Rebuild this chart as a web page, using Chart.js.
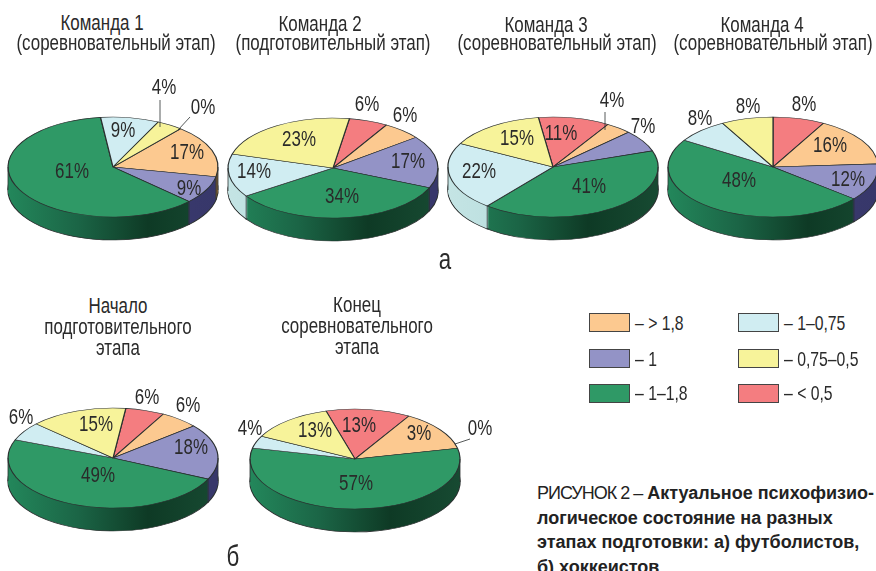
<!DOCTYPE html>
<html lang="ru">
<head>
<meta charset="utf-8">
<script src="https://cdn.jsdelivr.net/npm/chart.js@4/dist/chart.umd.min.js"></script>
<style>
    html, body { margin: 0; padding: 0; background: #fff; }
    body { position: relative; width: 876px; height: 571px; overflow: hidden; color: #2a2a2a; font-family: "Liberation Sans", sans-serif; }
    canvas { position: absolute; }
    /* no condensed face is installed, so the text is narrowed by hand */
    .line { position: absolute; transform: translate(-50%, -50%) scaleX(0.77); white-space: nowrap; font-size: 22px; }
    .swatch { position: absolute; width: 39px; height: 17px; border: 1px solid #444; }
    .legendText { position: absolute; white-space: nowrap; font-size: 21px; transform-origin: left center; transform: translateY(-50%) scaleX(0.75); }
    #caption { position: absolute; left: 537px; top: 481px; width: 339px; font: bold 18px/24.6px "Liberation Sans", sans-serif; white-space: nowrap; color: #222; }
    #caption span { font-weight: normal; letter-spacing: -1px; }
</style>
</head>
<body>
<div id="caption"><span>РИСУНОК 2 –</span> Актуальное психофизио-<br>логическое состояние на разных<br>этапах подготовки: а) футболистов,<br>б) хоккеистов</div>
<script>
// slice order is the same in every pie, clockwise
const categories = ['< 0,5', '> 1,8', '1', '1–1,8', '1–0,75', '0,75–0,5'];

const team1Values = [0, 17, 9, 61, 9, 4];
const team2Values = [6, 6, 17, 34, 14, 23];
const team3Values = [11, 4, 7, 41, 22, 15];
const team4Values = [8, 16, 12, 48, 8, 8];
const startValues = [6, 6, 18, 49, 6, 15];
// the picture prints 3% on the orange slice but the slice is 13% wide
const endValues = [13, 13, 0, 57, 4, 13];
const endLabels = ['13%', '3%', '0%', '57%', '4%', '13%'];

const team1Title = ['Команда 1', '(соревновательный этап)'];
const team2Title = ['Команда 2', '(подготовительный этап)'];
const team3Title = ['Команда 3', '(соревновательный этап)'];
const team4Title = ['Команда 4', '(соревновательный этап)'];
const startTitle = ['Начало', 'подготовительного', 'этапа'];
const endTitle = ['Конец', 'соревновательного', 'этапа'];

const legendOrder = [1, 2, 3, 4, 5, 0];

const topColors = ['#f47d80', '#fcc990', '#9393c6', '#2f9966', '#d0edf2', '#f7f39a'];
const sideColors = [
    ['#c0585a', '#a04446'],
    ['#a98a5c', '#7a5c34'],
    ['#3f3f75', '#37376a'],
    ['#23875b', '#1b6546', '#0e3a25', '#174a32'],
    ['#c4e4e4', '#a6d2d2'],
    ['#c9c577', '#a5a25c']
];

const RADIUS = 105;
const SQUASH = 0.476;
const DEPTH = 23;
const BOX_W = 300;
const BOX_H = 240;
const labelFont = '22px "Liberation Sans", sans-serif';
const LABEL_NARROW = 0.77;

// labelAt and leaders are offsets from the centre of the pie
const pies = [
    { values: team1Values, cx: 113, cy: 167, rotation: 40,
      labelAt: [[90, -59], [74, -14], [76, 22], [-41, 5], [10, -36], [51, -79]],
      leaders: [[47, -67, 47, -40], [77, -50, 65, -37]],
      title: team1Title, titleAt: [[102, 23], [116, 43]] },
    { values: team2Values, cx: 333, cy: 168, rotation: 9,
      labelAt: [[34, -63], [72, -52], [75, -6], [9, 29], [-79, 4], [-34, -28]],
      leaders: [],
      title: team2Title, titleAt: [[320, 24], [333, 43]] },
    { values: team3Values, cx: 553, cy: 167, rotation: -8,
      labelAt: [[8, -33], [59, -66], [90, -40], [36, 20], [-74, 5], [-36, -28]],
      leaders: [[52, -55, 52, -37]],
      title: team3Title, titleAt: [[546, 25], [557, 43]] },
    { values: team4Values, cx: 773, cy: 167, rotation: 0,
      labelAt: [[31, -62], [57, -21], [75, 13], [-34, 14], [-73, -48], [-25, -60]],
      leaders: [],
      title: team4Title, titleAt: [[762, 25], [773, 43]] },
    { values: startValues, cx: 113, cy: 458, rotation: 7,
      labelAt: [[34, -60], [75, -52], [78, -10], [-15, 18], [-92, -40], [-17, -33]],
      leaders: [],
      title: startTitle, titleAt: [[118, 306], [118, 327], [118, 348]] },
    { values: endValues, labels: endLabels, cx: 354.5, cy: 459, rotation: -16,
      labelAt: [[4, -33], [64, -25], [125, -30], [1, 25], [-105, -30], [-40, -28]],
      leaders: [[115, -20, 100, -15]],
      title: endTitle, titleAt: [[357, 305], [357, 326], [357, 347]] }
];

function sideGradient(ctx, x, colors) {
    const grad = ctx.createLinearGradient(x - RADIUS, 0, x + RADIUS, 0);
    colors.forEach((c, i) => grad.addColorStop(i / (colors.length - 1), c));
    return grad;
}

// squashes the library's arcs into an ellipse and stacks copies below for the rim
const tiltedPie = {
    id: 'tiltedPie',
    beforeDatasetsDraw(chart) {
        const ctx = chart.ctx;
        const arcs = chart.getDatasetMeta(0).data;
        const x = arcs[0].x, y = arcs[0].y;

        ctx.save();
        ctx.translate(0, y);
        ctx.scale(1, SQUASH);
        ctx.translate(0, -y);

        for (let d = DEPTH; d >= 1; d--) {
            arcs.forEach((arc, i) => {
                const saved = arc.options;
                const edge = d === DEPTH;
                arc.options = {
                    backgroundColor: sideGradient(ctx, x, sideColors[i]),
                    borderColor: '#2b3030',
                    borderWidth: edge ? 1.4 : 0,
                    borderAlign: 'center',
                    offset: 0, spacing: 0, circular: true, borderRadius: 0, borderJoinStyle: 'round', borderDash: [], borderDashOffset: 0
                };
                ctx.save();
                ctx.translate(0, d / SQUASH);
                arc.draw(ctx);
                ctx.restore();
                arc.options = saved;
            });
        }
    },
    afterDatasetsDraw(chart, args, opts) {
        const ctx = chart.ctx;
        const arcs = chart.getDatasetMeta(0).data;
        const x = arcs[0].x, y = arcs[0].y;
        ctx.restore();

        // rim edges at slice boundaries on the front half
        ctx.strokeStyle = '#2b3030';
        ctx.lineWidth = 0.8;
        const edges = arcs.filter(a => a.circumference > 0).map(a => a.startAngle);
        edges.push(0, Math.PI);
        edges.forEach(angle => {
            if (Math.sin(angle) < -0.001) return;
            const px = x + RADIUS * Math.cos(angle);
            const py = y + RADIUS * SQUASH * Math.sin(angle);
            ctx.beginPath();
            ctx.moveTo(px, py);
            ctx.lineTo(px, py + DEPTH);
            ctx.stroke();
        });

        opts.leaders.forEach(l => {
            ctx.beginPath();
            ctx.moveTo(x + l[0], y + l[1]);
            ctx.lineTo(x + l[2], y + l[3]);
            ctx.stroke();
        });

        ctx.font = labelFont;
        ctx.fillStyle = '#2a2a2a';
        ctx.textAlign = 'center';
        ctx.textBaseline = 'middle';
        opts.labels.forEach((text, i) => {
            ctx.save();
            ctx.translate(x + opts.labelAt[i][0], y + opts.labelAt[i][1]);
            ctx.scale(LABEL_NARROW, 1);
            ctx.fillText(text, 0, 0);
            ctx.restore();
        });
    }
};

function addLine(text, x, y, cls) {
    const div = document.createElement('div');
    div.className = cls;
    div.textContent = text;
    div.style.left = x + 'px';
    div.style.top = y + 'px';
    document.body.appendChild(div);
    return div;
}

pies.forEach(pie => {
    const canvas = document.createElement('canvas');
    canvas.width = BOX_W;
    canvas.height = BOX_H;
    canvas.style.left = (pie.cx - BOX_W / 2) + 'px';
    canvas.style.top = (pie.cy - BOX_H / 2) + 'px';
    document.body.appendChild(canvas);

    new Chart(canvas.getContext('2d'), {
        type: 'pie',
        data: {
            labels: categories,
            datasets: [{
                data: pie.values,
                backgroundColor: topColors,
                borderColor: '#2b3030',
                borderWidth: 1.2,
                clip: false
            }]
        },
        options: {
            responsive: false,
            animation: false,
            radius: RADIUS,
            rotation: pie.rotation,
            layout: { padding: 0 },
            plugins: {
                legend: { display: false },
                title: { display: false },
                tooltip: { enabled: false },
                tiltedPie: {
                    labels: pie.labels || pie.values.map(v => v + '%'),
                    labelAt: pie.labelAt,
                    leaders: pie.leaders
                }
            }
        },
        plugins: [tiltedPie]
    });

    pie.title.forEach((text, i) => addLine(text, pie.titleAt[i][0], pie.titleAt[i][1], 'line'));
});

addLine('а', 445, 259, 'line').style.fontSize = '29px';
addLine('б', 233, 556, 'line').style.fontSize = '29px';

legendOrder.forEach((slice, i) => {
    const col = i < 3 ? 0 : 1;
    const row = i % 3;
    const swatch = document.createElement('div');
    swatch.className = 'swatch';
    swatch.style.left = (col === 0 ? 589 : 738) + 'px';
    swatch.style.top = [313, 349, 384][row] + 'px';
    swatch.style.background = topColors[slice];
    document.body.appendChild(swatch);
    addLine('– ' + categories[slice], col === 0 ? 635 : 784, [323, 359, 393][row], 'legendText');
});
</script>
</body>
</html>
